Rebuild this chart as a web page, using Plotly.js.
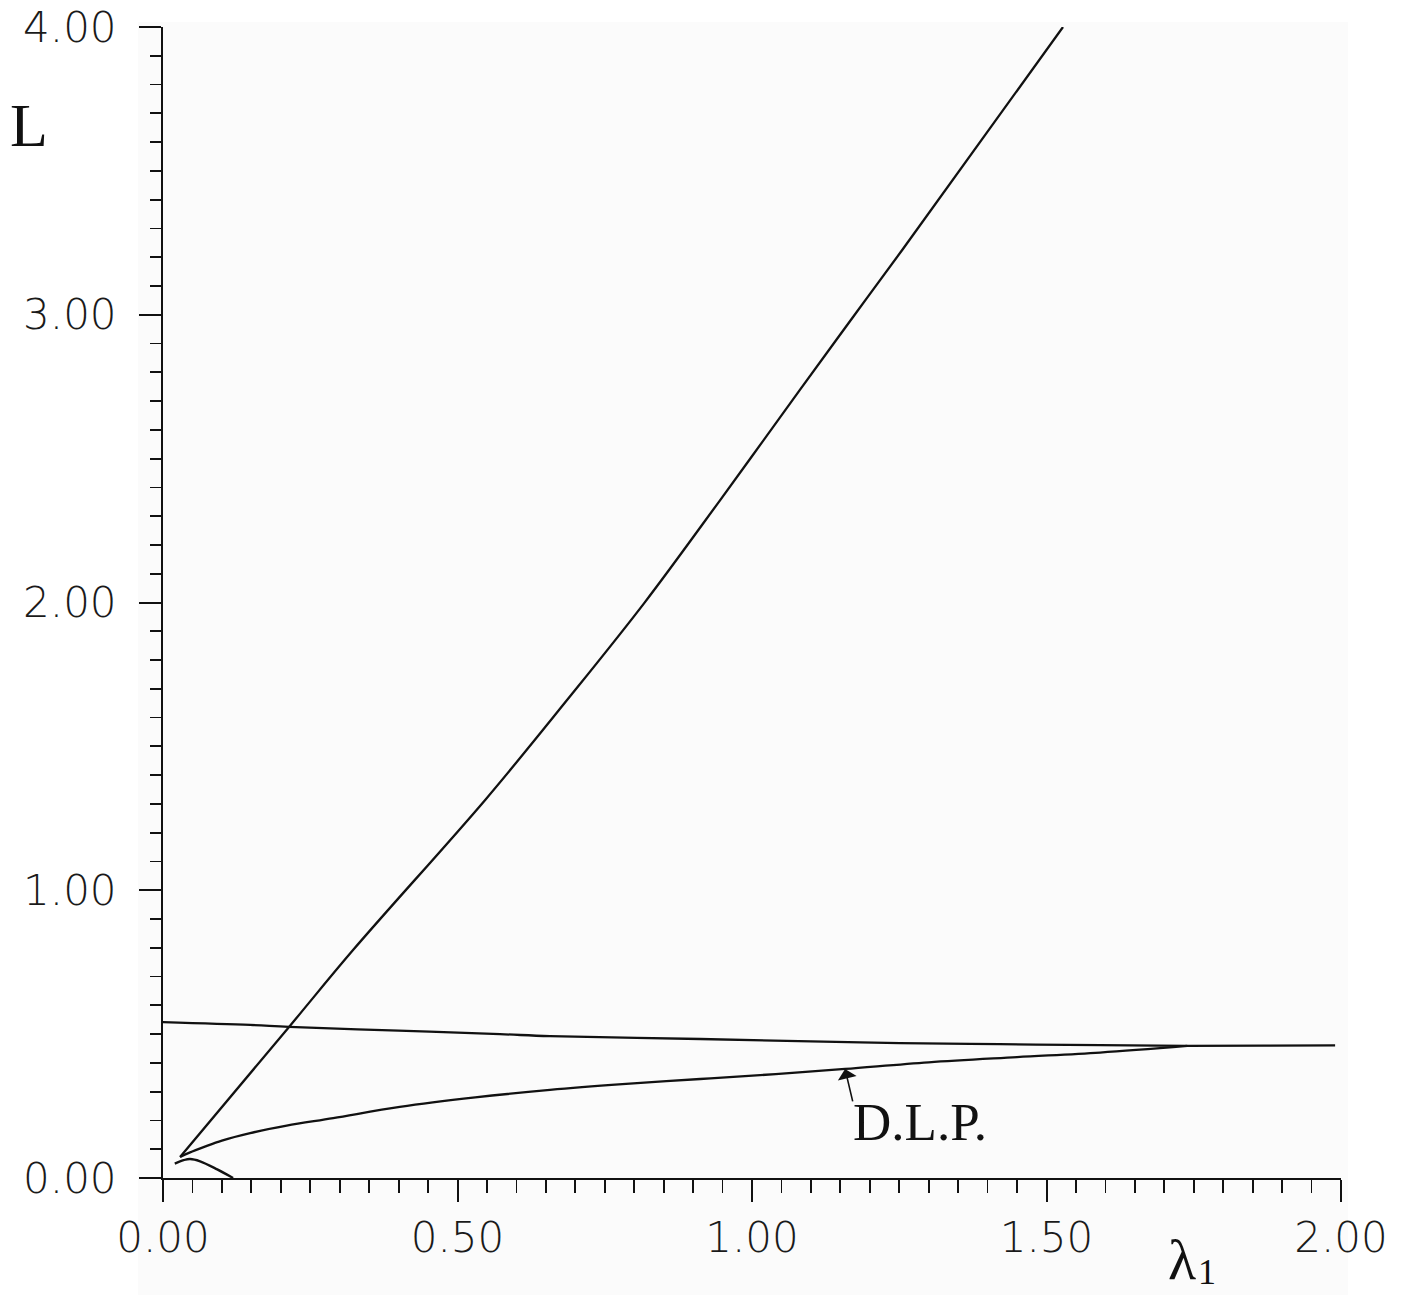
<!DOCTYPE html>
<html>
<head>
<meta charset="utf-8">
<script src="https://cdn.plot.ly/plotly-3.0.1.min.js"></script>
<style>html,body{margin:0;padding:0;background:#fff;}#chart{width:1401px;height:1295px;}</style>
</head>
<body>
<div id="chart"></div>
<script>
// Steep branch
const steepX = [0.029, 0.214, 0.323, 0.547, 0.686, 0.817, 0.946, 1.081, 1.170, 1.255, 1.528];
const steepY = [0.073, 0.525, 0.793, 1.314, 1.661, 1.998, 2.356, 2.738, 2.988, 3.225, 4.000];
// Upper nearly-flat branch
const upperX = [0.000, 0.148, 0.214, 0.400, 0.572, 0.657, 0.912, 1.100, 1.251, 1.420, 1.591, 1.739, 1.870, 1.990];
const upperY = [0.542, 0.532, 0.525, 0.512, 0.500, 0.493, 0.483, 0.475, 0.469, 0.465, 0.462, 0.459, 0.460, 0.461];
// D.L.P. branch
const dlpX = [0.029, 0.045, 0.070, 0.100, 0.148, 0.210, 0.289, 0.402, 0.530, 0.657, 0.780, 0.912, 1.040, 1.158, 1.300, 1.450, 1.591, 1.739];
const dlpY = [0.073, 0.088, 0.108, 0.130, 0.156, 0.182, 0.208, 0.247, 0.280, 0.306, 0.326, 0.344, 0.361, 0.379, 0.402, 0.420, 0.436, 0.459];
// small hump near origin
const humpX = [0.020, 0.035, 0.046, 0.063, 0.092, 0.119];
const humpY = [0.050, 0.062, 0.066, 0.058, 0.030, 0.000];

const xTicks = [0, 0.5, 1.0, 1.5, 2.0];
const yTicks = [0, 1, 2, 3, 4];

const lineStyle = {color: '#111', width: 2.3, shape: 'spline', smoothing: 1};
const traces = [
  {x: steepX, y: steepY, mode: 'lines', line: lineStyle, hoverinfo: 'skip'},
  {x: upperX, y: upperY, mode: 'lines', line: lineStyle, hoverinfo: 'skip'},
  {x: dlpX, y: dlpY, mode: 'lines', line: lineStyle, hoverinfo: 'skip'},
  {x: humpX, y: humpY, mode: 'lines', line: lineStyle, hoverinfo: 'skip'}
];

const tickFont = {family: 'DejaVu Sans', size: 42, color: '#1a1a1a', weight: 200};

const layout = {
  width: 1401, height: 1295,
  margin: {l: 163, r: 60, t: 27, b: 117},
  paper_bgcolor: '#ffffff',
  plot_bgcolor: 'rgba(0,0,0,0)',
  showlegend: false,
  xaxis: {
    range: [0, 2], tickvals: xTicks, tickformat: '.2f',
    showgrid: false, zeroline: false,
    showline: true, linecolor: '#111', linewidth: 2,
    ticks: 'outside', ticklen: 22, tickwidth: 2, tickcolor: '#111',
    ticklabelstandoff: 0,
    minor: {dtick: 0.05, tick0: 0, ticks: 'outside', ticklen: 13, tickwidth: 1.8, tickcolor: '#111', showgrid: false},
    tickfont: tickFont, fixedrange: true
  },
  yaxis: {
    range: [0, 4], tickvals: yTicks, tickformat: '.2f',
    showgrid: false, zeroline: false,
    showline: true, linecolor: '#111', linewidth: 2,
    ticks: 'outside', ticklen: 22, tickwidth: 2, tickcolor: '#111',
    ticklabelstandoff: 14,
    minor: {dtick: 0.1, tick0: 0, ticks: 'outside', ticklen: 11, tickwidth: 1.8, tickcolor: '#111', showgrid: false},
    tickfont: tickFont, fixedrange: true
  },
  shapes: [
    {type: 'rect', xref: 'paper', yref: 'paper', x0: -0.0212, x1: 1.006, y0: -0.1017, y1: 1.0043,
     fillcolor: '#fbfbfb', line: {width: 0}, layer: 'below'}
  ],
  annotations: [
    {xref: 'paper', yref: 'paper', x: -0.114, y: 0.915, text: 'L', showarrow: false,
     font: {family: 'Liberation Serif', size: 62, color: '#111'}, xanchor: 'center', yanchor: 'middle'},
    {xref: 'paper', yref: 'paper', x: 0.865, y: -0.0712, text: 'λ', showarrow: false,
     font: {family: 'Liberation Serif', size: 58, color: '#111'}, xanchor: 'center', yanchor: 'middle'},
    {xref: 'paper', yref: 'paper', x: 0.886, y: -0.0815, text: '1', showarrow: false,
     font: {family: 'Liberation Serif', size: 36, color: '#111'}, xanchor: 'center', yanchor: 'middle'},
    {x: 1.158, y: 0.379, ax: 8, ay: 34, axref: 'pixel', ayref: 'pixel', text: '', showarrow: true,
     arrowhead: 1, arrowsize: 2, arrowwidth: 1.6, arrowcolor: '#111'},
    {x: 1.285, y: 0.195, text: 'D.L.P.', showarrow: false,
     font: {family: 'Liberation Serif', size: 53, color: '#111'}, xanchor: 'center', yanchor: 'middle'}
  ]
};

Plotly.newPlot('chart', traces, layout, {displayModeBar: false, staticPlot: true});
</script>
</body>
</html>
